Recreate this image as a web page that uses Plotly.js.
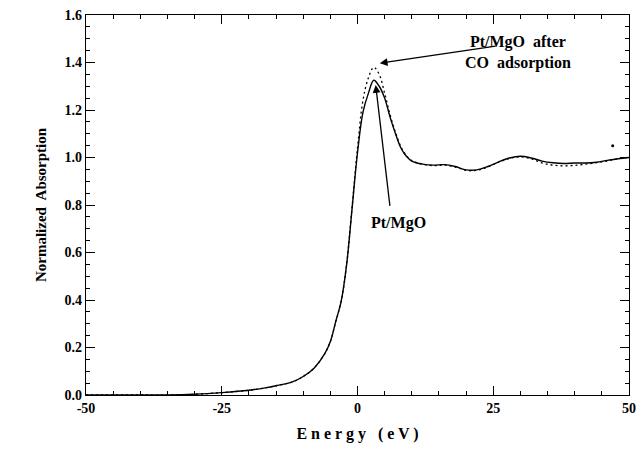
<!DOCTYPE html>
<html>
<head>
<meta charset="utf-8">
<script src="https://cdn.plot.ly/plotly-3.0.1.min.js"></script>
<style>html,body{margin:0;padding:0;background:#fff;}#chart{width:641px;height:451px;}</style>
</head>
<body>
<div id="chart"></div>
<script>
const energy = [-50,-45,-40,-35,-30,-25,-20,-17,-15,-12,-10,-8,-6,-5,-4,-3,-2,-1,0,1,2,3,4,5,6,7,8,9,10,12,14,16,18,20,22,24,26,28,30,32,34,36,38,40,42,44,46,48,50];
const ptMgO = [0.0,0.0,0.0,0.0,0.003,0.01,0.02,0.03,0.039,0.055,0.078,0.113,0.175,0.225,0.31,0.395,0.55,0.785,1.02,1.19,1.27,1.325,1.30,1.25,1.17,1.10,1.04,1.005,0.985,0.972,0.968,0.97,0.962,0.948,0.948,0.962,0.982,0.998,1.005,0.998,0.985,0.978,0.975,0.977,0.977,0.98,0.988,0.995,1.0];
const ptMgOCO = [0.0,0.0,0.0,0.0,0.003,0.01,0.02,0.03,0.039,0.055,0.078,0.113,0.175,0.225,0.31,0.395,0.55,0.79,1.04,1.24,1.335,1.38,1.35,1.27,1.18,1.105,1.045,1.008,0.987,0.972,0.966,0.968,0.96,0.946,0.946,0.96,0.98,0.996,1.003,0.994,0.977,0.968,0.965,0.967,0.972,0.978,0.985,0.995,1.0];
const strayE = [47];
const strayY = [1.05];

const fontFam = '"Liberation Serif", "Times New Roman", serif';

const traces = [
  {x: energy, y: ptMgOCO, mode: 'lines', line: {color: '#000', width: 1.3, dash: '2px,3px', shape: 'spline'}, name: 'Pt/MgO after CO adsorption'},
  {x: energy, y: ptMgO, mode: 'lines', line: {color: '#000', width: 1.4, shape: 'spline'}, name: 'Pt/MgO'},
  {x: strayE, y: strayY, mode: 'markers', marker: {color: '#000', size: 3}, name: 'point'}
];

const axisCommon = {
  showgrid: false, zeroline: false, showline: true, linecolor: '#000', linewidth: 1.2,
  mirror: 'allticks', ticks: 'inside', tickcolor: '#000', tickwidth: 1,
  tickfont: {family: fontFam, size: 14, color: '#000', weight: 'bold'}
};

const layout = {
  width: 641, height: 451,
  margin: {l: 86, r: 12, t: 15, b: 56},
  paper_bgcolor: '#fff', plot_bgcolor: '#fff',
  showlegend: false,
  font: {family: fontFam, color: '#000'},
  xaxis: Object.assign({}, axisCommon, {
    range: [-50, 50], tickvals: [-50, -25, 0, 25, 50], ticktext: ['-50','-25','0','25','50'], ticklen: 9,
    minor: {dtick: 5, tick0: 0, ticks: 'inside', ticklen: 4, tickcolor: '#000', showgrid: false},
    title: {text: 'E n e r g y   ( e V )', font: {family: fontFam, size: 16, color: '#000', weight: 'bold'}, standoff: 12}
  }),
  yaxis: Object.assign({}, axisCommon, {
    range: [0, 1.6], dtick: 0.2, tickformat: '.1f', ticklen: 9,
    minor: {dtick: 0.05, ticks: 'inside', ticklen: 4, tickcolor: '#000', showgrid: false},
    title: {text: 'Normalized  Absorption', font: {family: fontFam, size: 15, color: '#000', weight: 'bold'}, standoff: 14}
  }),
  annotations: [
    {x: 4.1, y: 1.397, xref: 'x', yref: 'y', ax: 25.7, ay: 1.47, axref: 'x', ayref: 'y', text: '', showarrow: true, arrowhead: 2, arrowsize: 1.2, arrowwidth: 1.3, arrowcolor: '#000'},
    {x: 3.35, y: 1.305, xref: 'x', yref: 'y', ax: 6.0, ay: 0.79, axref: 'x', ayref: 'y', text: '', showarrow: true, arrowhead: 2, arrowsize: 1.2, arrowwidth: 1.3, arrowcolor: '#000'},
    {x: 29.6, y: 1.444, xref: 'x', yref: 'y', text: 'Pt/MgO  after<br>CO  adsorption', showarrow: false, align: 'center', font: {family: fontFam, size: 16, color: '#000', weight: 'bold'}},
    {x: 7.6, y: 0.724, xref: 'x', yref: 'y', text: 'Pt/MgO', showarrow: false, font: {family: fontFam, size: 16, color: '#000', weight: 'bold'}}
  ]
};

Plotly.newPlot('chart', traces, layout, {staticPlot: true, displayModeBar: false});
</script>
</body>
</html>
